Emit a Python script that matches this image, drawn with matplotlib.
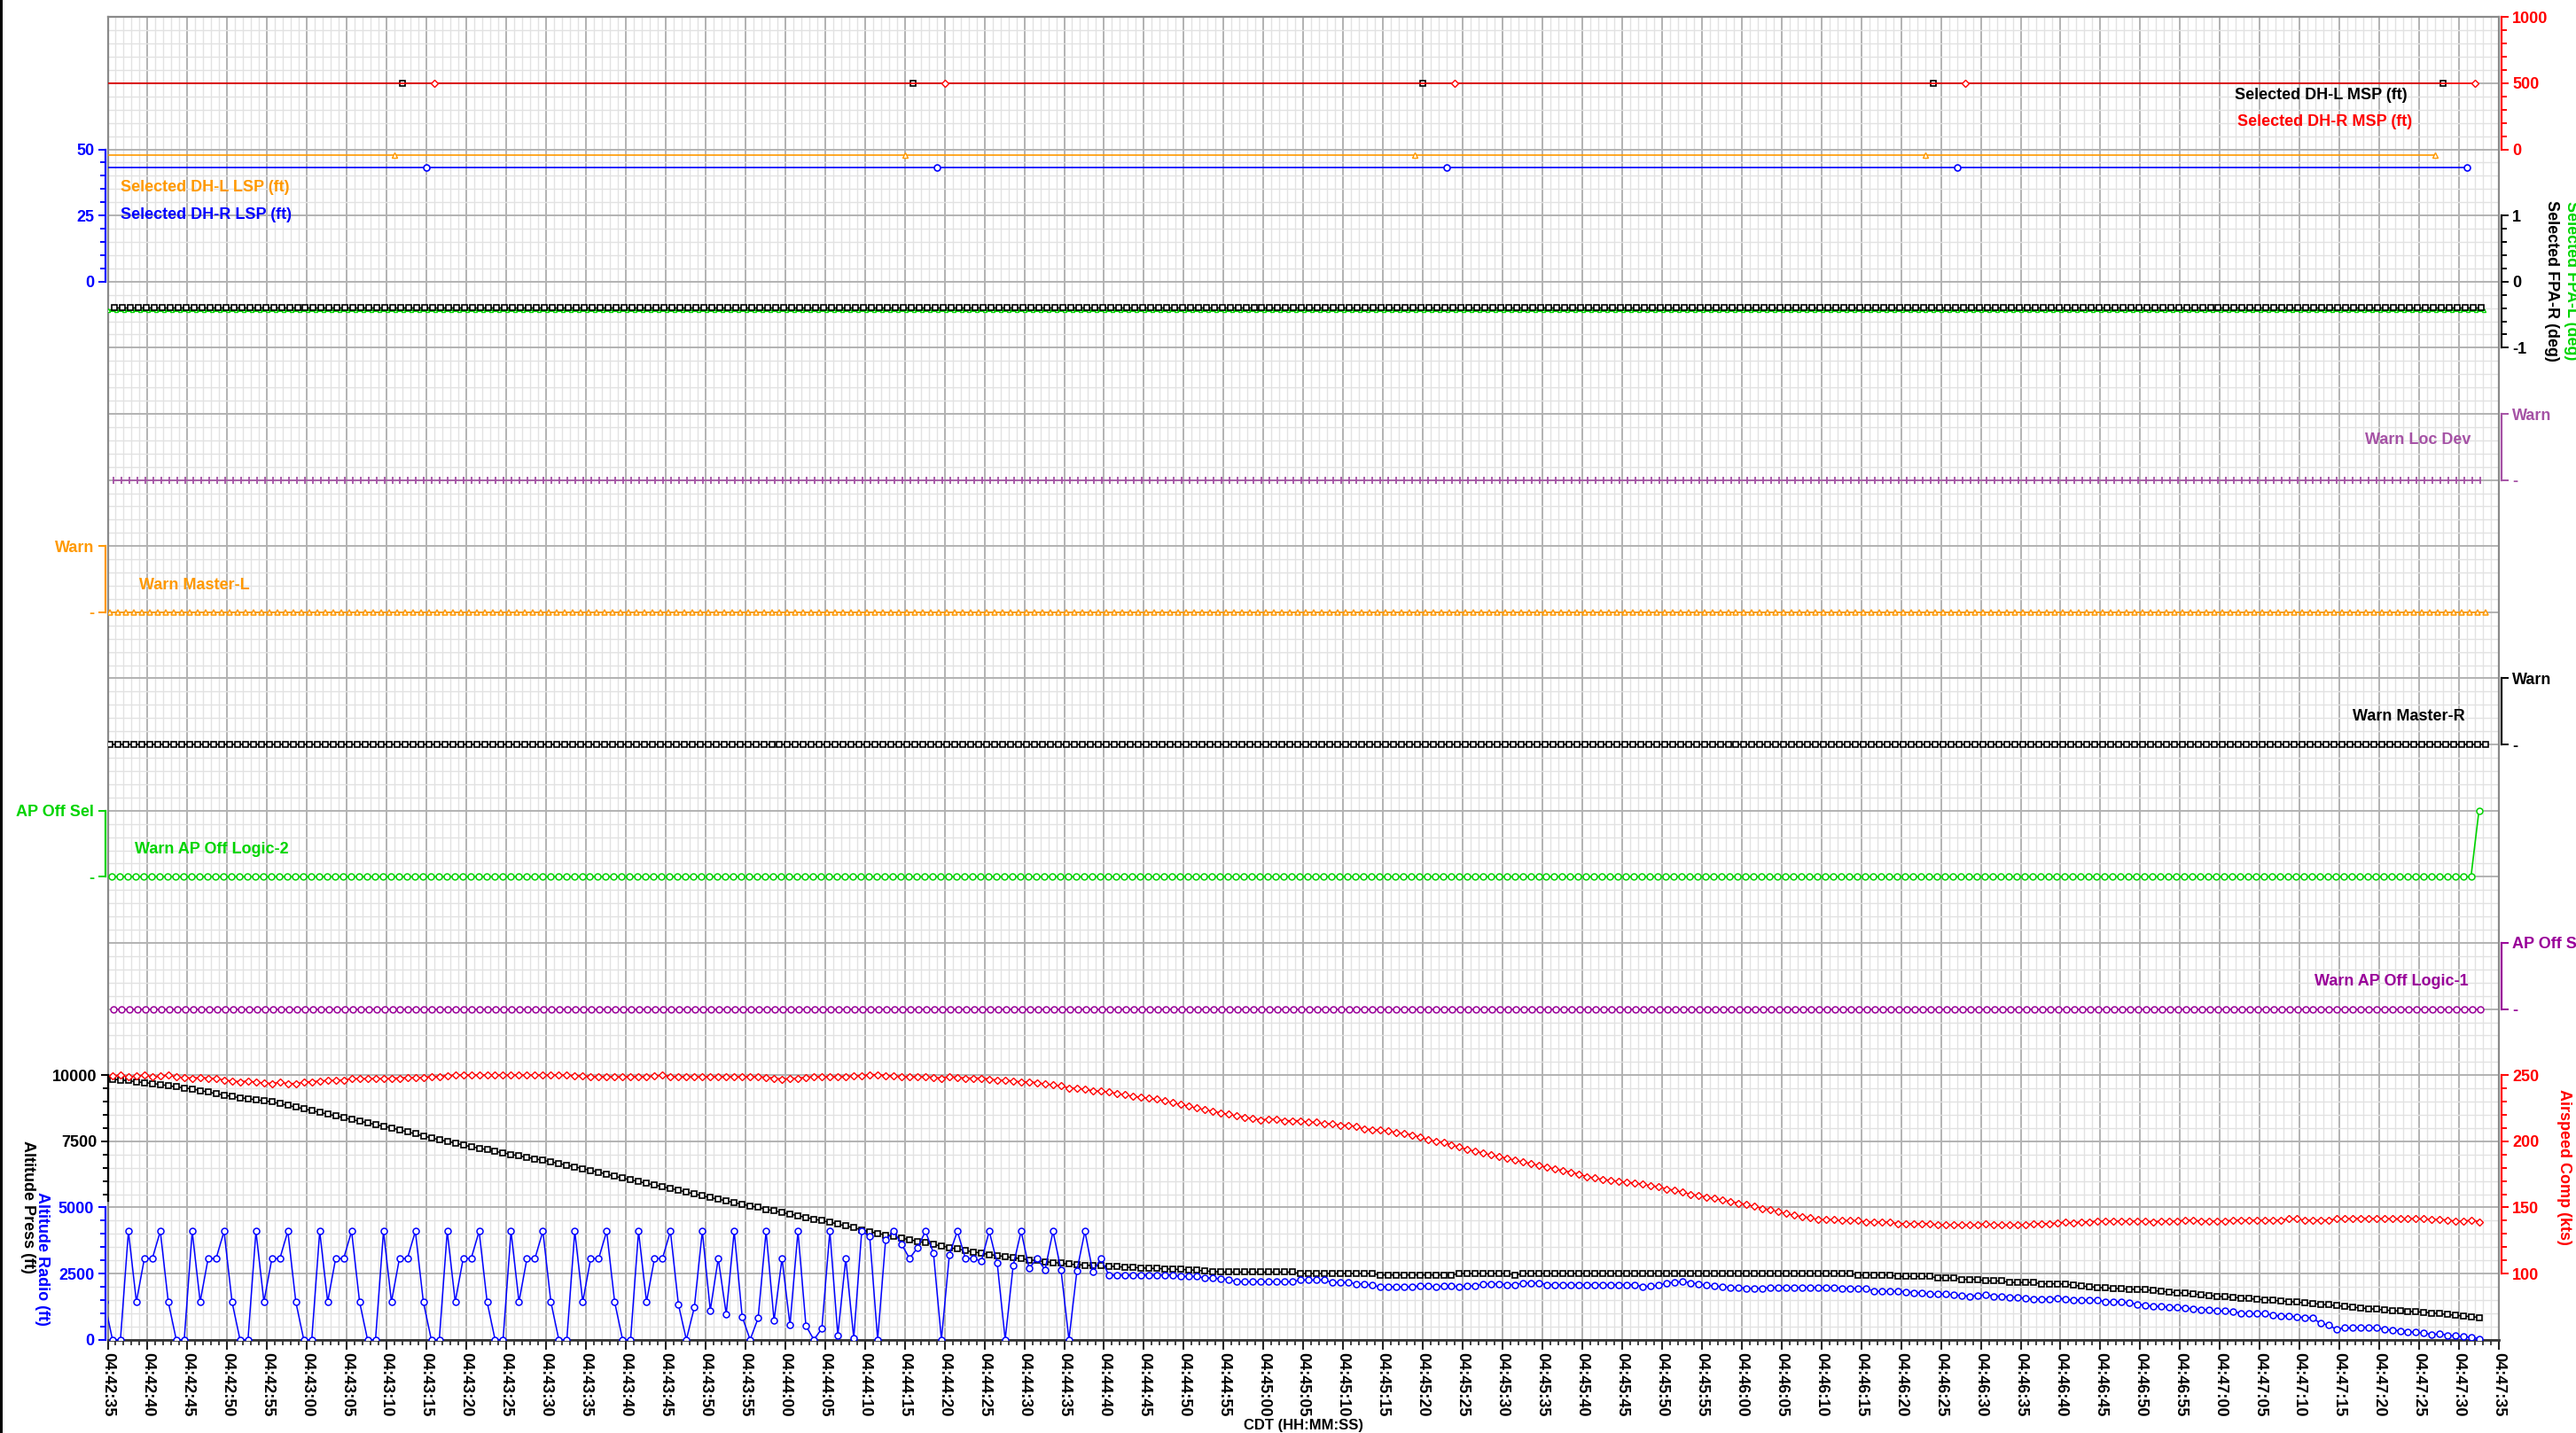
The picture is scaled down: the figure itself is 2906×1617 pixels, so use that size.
import numpy as np
import matplotlib
matplotlib.use("Agg")
import matplotlib.pyplot as plt
from matplotlib.ticker import (MultipleLocator, FixedLocator, FixedFormatter,
                               FuncFormatter, NullLocator)
from matplotlib.patches import Rectangle

plt.rcParams['font.family'] = ['Liberation Sans', 'DejaVu Sans']
plt.rcParams['font.weight'] = 'bold'
plt.rcParams['axes.unicode_minus'] = False

# ------------------------------------------------------------------ time base
T0_HMS = (4, 42, 35)          # first tick, CDT
WINDOW_S = 300                # seconds shown

# ------------------------------------------------------------------ DH settings (one sample every 64 s)
dh_l_msp_t = [-27, 37, 101, 165, 229, 293]
dh_l_msp = [500, 500, 500, 500, 500, 500]
dh_r_msp_t = [-23, 41, 105, 169, 233, 297]
dh_r_msp = [500, 500, 500, 500, 500, 500]
dh_l_lsp_t = [-28, 36, 100, 164, 228, 292]
dh_l_lsp = [48, 48, 48, 48, 48, 48]
dh_r_lsp_t = [-24, 40, 104, 168, 232, 296]
dh_r_lsp = [43, 43, 43, 43, 43, 43]

# ------------------------------------------------------------------ 1 Hz parameters: (value, count) runs
fpa_r_t0, fpa_r_runs = 0.8, [(-0.39, 298)]
fpa_l_t0, fpa_l_runs = 0.1, [(-0.43, 299)]
loc_dev_t0, loc_dev_runs = 0.7, [(0, 298)]
master_l_t0, master_l_runs = 0.3, [(0, 299)]
master_r_t0, master_r_runs = 0.3, [(0, 299)]
ap_logic2_t0, ap_logic2_runs = 0.5, [(0, 297), (1, 1)]
ap_logic1_t0, ap_logic1_runs = 0.7, [(0, 298)]

# ------------------------------------------------------------------ altitude / airspeed, 1 Hz
alt_press_t0 = 0.6
alt_press = [
    9850, 9820, 9790, 9750, 9720, 9685, 9650, 9600, 9560, 9520,
    9480, 9420, 9360, 9300, 9250, 9190, 9150, 9110, 9070, 9030,
    8990, 8920, 8860, 8790, 8730, 8660, 8590, 8530, 8460, 8390,
    8320, 8260, 8200, 8130, 8070, 8010, 7930, 7860, 7780, 7700,
    7630, 7560, 7500, 7430, 7360, 7295, 7240, 7180, 7120, 7060,
    7005, 6950, 6890, 6840, 6780, 6725, 6660, 6600, 6530, 6470,
    6400, 6330, 6260, 6180, 6110, 6040, 5980, 5910, 5850, 5780,
    5720, 5650, 5580, 5510, 5440, 5370, 5310, 5250, 5180, 5120,
    5060, 5000, 4930, 4870, 4810, 4745, 4690, 4620, 4560, 4500,
    4445, 4370, 4300, 4230, 4150, 4080, 4020, 3960, 3900, 3840,
    3780, 3720, 3660, 3600, 3540, 3480, 3430, 3370, 3320, 3270,
    3220, 3180, 3140, 3100, 3060, 3020, 2990, 2950, 2920, 2890,
    2855, 2840, 2820, 2800, 2790, 2780, 2760, 2745, 2730, 2715,
    2700, 2690, 2680, 2665, 2655, 2645, 2620, 2600, 2580, 2560,
    2555, 2555, 2555, 2555, 2555, 2555, 2555, 2555, 2555, 2500,
    2500, 2500, 2500, 2500, 2500, 2500, 2500, 2500, 2500, 2445,
    2445, 2445, 2445, 2445, 2445, 2445, 2445, 2445, 2445, 2500,
    2500, 2500, 2500, 2500, 2500, 2500, 2445, 2500, 2500, 2500,
    2500, 2500, 2500, 2500, 2500, 2500, 2500, 2500, 2500, 2500,
    2500, 2500, 2500, 2500, 2500, 2500, 2500, 2500, 2500, 2500,
    2500, 2500, 2500, 2500, 2500, 2500, 2500, 2500, 2500, 2500,
    2500, 2500, 2500, 2500, 2500, 2500, 2500, 2500, 2500, 2445,
    2445, 2445, 2445, 2445, 2390, 2390, 2390, 2390, 2390, 2335,
    2335, 2335, 2280, 2280, 2280, 2220, 2220, 2220, 2165, 2165,
    2165, 2165, 2110, 2110, 2110, 2100, 2055, 2030, 2000, 1980,
    1955, 1940, 1925, 1910, 1900, 1890, 1860, 1830, 1800, 1780,
    1755, 1730, 1700, 1670, 1645, 1620, 1600, 1575, 1550, 1530,
    1510, 1490, 1465, 1440, 1420, 1395, 1370, 1340, 1315, 1290,
    1260, 1230, 1200, 1175, 1150, 1120, 1100, 1085, 1070, 1055,
    1040, 1010, 980, 950, 920, 895, 865, 840,
]

alt_radio_t0 = -0.4
alt_radio = [
    1430,
    0, 0, 4100, 1430, 3070, 3070, 4100, 1430,
    0, 0, 4100, 1430, 3070, 3070, 4100, 1430,
    0, 0, 4100, 1430, 3070, 3070, 4100, 1430,
    0, 0, 4100, 1430, 3070, 3070, 4100, 1430,
    0, 0, 4100, 1430, 3070, 3070, 4100, 1430,
    0, 0, 4100, 1430, 3070, 3070, 4100, 1430,
    0, 0, 4100, 1430, 3070, 3070, 4100, 1430,
    0, 0, 4100, 1430, 3070, 3070, 4100, 1430,
    0, 0, 4100, 1430, 3070, 3070, 4100, 1333,
    0, 1222, 4100, 1111, 3070, 967, 4100, 867,
    0, 811, 4100, 722, 3070, 555, 4100, 522,
    0, 422, 4100, 167, 3070, 55, 4100, 3911,
    0, 3778, 4100, 3610, 3070, 3478, 4100, 3278,
    0, 3222, 4100, 3078, 3070, 2966, 4100, 2889,
    0, 2800, 4100, 2700, 3070, 2644, 4100, 2644,
    0, 2611, 4100, 2555, 3070, 2444, 2444, 2444,
    2444, 2444, 2444, 2444, 2444, 2444, 2389, 2389,
    2389, 2333, 2333, 2300, 2278, 2189, 2189, 2189,
    2189, 2189, 2189, 2189, 2189, 2255, 2255, 2255,
    2255, 2167, 2167, 2167, 2111, 2111, 2055, 2000,
    2000, 2000, 2000, 2000, 2033, 2033, 2000, 2033,
    2033, 2000, 2033, 2033, 2111, 2111, 2111, 2078,
    2078, 2144, 2144, 2144, 2078, 2078, 2078, 2078,
    2078, 2078, 2078, 2078, 2078, 2078, 2078, 2078,
    2000, 2033, 2055, 2144, 2167, 2200, 2144, 2111,
    2055, 2033, 2000, 1978, 1978, 1944, 1944, 1944,
    1978, 1978, 1978, 1978, 1978, 1978, 1978, 1978,
    1978, 1944, 1944, 1944, 1944, 1833, 1833, 1833,
    1833, 1811, 1778, 1778, 1722, 1722, 1722, 1700,
    1667, 1644, 1667, 1700, 1644, 1644, 1611, 1611,
    1556, 1533,
    1541, 1541, 1560, 1541, 1486, 1508, 1486, 1508, 1430, 1430,
    1430, 1397, 1340, 1307, 1262, 1262, 1228, 1228, 1195, 1172,
    1139, 1139, 1083, 1083, 1061, 1005, 983, 983, 983, 927,
    894, 894, 860, 838, 838,
    614, 558, 391, 447, 447, 469, 469, 447, 391, 368,
    335, 301, 279, 257, 190, 223, 168, 145, 112, 89, 34,
]

airspeed_t0 = 0.6
airspeed = [
    249.3, 250.0, 248.7, 249.3, 250.0, 248.7, 249.3, 250.0, 248.7, 248.2,
    247.8, 248.2, 247.8, 247.3, 246.4, 245.5, 245.1, 245.5, 244.6, 244.2,
    243.7, 244.6, 243.7, 243.7, 244.6, 245.1, 245.5, 246.0, 246.0, 246.4,
    247.3, 247.3, 247.3, 247.3, 247.3, 247.8, 247.8, 248.2, 248.2, 248.4,
    248.9, 249.1, 249.6, 250.0, 250.0, 250.0, 250.0, 250.0, 250.0, 250.0,
    250.0, 250.0, 250.0, 250.0, 250.0, 250.0, 250.0, 250.0, 249.6, 249.3,
    249.1, 248.9, 249.1, 248.9, 248.9, 249.1, 248.9, 249.1, 249.3, 250.0,
    249.1, 248.9, 248.9, 249.1, 248.9, 248.9, 249.1, 248.9, 248.9, 248.9,
    248.9, 248.9, 248.4, 247.8, 247.0, 247.3, 247.8, 248.4, 248.9, 248.9,
    248.9, 249.1, 249.1, 249.3, 249.6, 250.4, 250.4, 249.8, 249.3, 249.1,
    248.9, 248.9, 248.9, 248.4, 247.8, 248.9, 248.4, 247.8, 247.8, 247.8,
    247.1, 246.2, 246.2, 245.5, 244.9, 244.9, 244.4, 243.3, 242.7, 241.8,
    240.4, 240.0, 239.3, 238.2, 237.8, 237.3, 236.2, 235.1, 234.0, 233.3,
    232.4, 231.8, 230.7, 229.1, 227.8, 226.7, 225.1, 224.0, 222.7, 221.6,
    220.4, 219.3, 218.2, 217.3, 216.2, 216.7, 216.7, 215.6, 215.6, 215.6,
    214.4, 214.4, 213.3, 213.3, 212.2, 212.2, 211.1, 209.3, 208.9, 208.4,
    207.8, 206.7, 205.9, 204.9, 203.3, 201.1, 200.0, 198.9, 197.3, 195.6,
    193.8, 192.4, 191.1, 189.6, 188.4, 187.1, 185.6, 184.4, 183.1, 181.6,
    180.4, 179.1, 177.8, 176.7, 175.1, 173.3, 172.2, 171.1, 170.4, 169.6,
    169.1, 168.4, 167.6, 166.4, 165.6, 164.0, 162.9, 161.6, 160.0, 158.9,
    157.8, 156.7, 155.6, 154.4, 153.3, 152.2, 150.7, 149.3, 148.2, 146.7,
    145.3, 144.0, 143.1, 142.2, 140.7, 140.7, 140.7, 140.0, 140.0, 140.0,
    138.9, 138.9, 138.9, 138.9, 137.8, 137.8, 137.8, 137.8, 137.8, 136.7,
    136.7, 136.7, 136.7, 136.7, 136.7, 137.8, 136.7, 136.7, 136.7, 136.7,
    136.7, 137.8, 137.8, 137.8, 138.2, 138.9, 138.2, 139.1, 139.1, 139.6,
    139.6, 139.6, 139.6, 139.6, 139.6, 139.6, 139.1, 139.6, 139.6, 139.6,
    140.4, 140.4, 139.6, 139.6, 139.6, 139.6, 140.4, 140.4, 140.4, 140.4,
    140.4, 140.4, 140.4, 141.3, 141.3, 140.4, 140.4, 140.4, 140.4, 141.3,
    141.3, 141.8, 141.8, 141.8, 141.3, 141.8, 141.3, 141.3, 141.8, 141.3,
    141.3, 140.9, 140.9, 140.4, 139.6, 139.6, 140.4, 139.1,
]

# ------------------------------------------------------------------ colours
C_ORANGE = '#ff9900'
C_GREEN = '#00d400'
C_PURPLE = '#a552a5'
C_MAGENTA = '#990099'
C_BLUE = '#0000ff'
C_RED = '#ff0000'
C_BLACK = '#000000'
FS = 13

# ------------------------------------------------------------------ helpers
def expand(runs):
    return np.concatenate([np.full(n, v, dtype=float) for v, n in runs])


def sample_times(t0, n):
    return t0 + np.arange(n)


def value_limits(v_top, r_top, v_bot, r_bot, rows=20):
    """y-limits so that v_top sits on grid row r_top and v_bot on r_bot (rows counted from the top)."""
    per_row = (v_top - v_bot) / (r_bot - r_top)
    hi = v_top + r_top * per_row
    return hi - rows * per_row, hi


def hms(x, pos=None):
    s = T0_HMS[0] * 3600 + T0_HMS[1] * 60 + T0_HMS[2] + int(round(x))
    return f"{s // 3600:02d}:{s % 3600 // 60:02d}:{s % 60:02d}"


W_PX, H_PX, DPI = 2906, 1617, 100
fig = plt.figure(figsize=(W_PX / DPI, H_PX / DPI), dpi=DPI, facecolor='white')
L, R, T, B = 121.5 / W_PX, 2819 / W_PX, 19.3 / H_PX, 1511.7 / H_PX
RECT = [L, 1 - B, R - L, B - T]

# host: grid, frame and time axis
host = fig.add_axes(RECT)
host.set_xlim(0, WINDOW_S)
host.set_ylim(0, 20)
host.xaxis.set_major_locator(MultipleLocator(5))
host.xaxis.set_minor_locator(MultipleLocator(1))
host.yaxis.set_major_locator(MultipleLocator(1))
host.yaxis.set_minor_locator(MultipleLocator(0.2))
host.grid(which='minor', color='#e2e2e2', lw=1.0)
host.grid(which='major', color='#b2b2b2', lw=1.4)
host.set_axisbelow(True)
host.tick_params(axis='y', which='both', left=False, right=False, labelleft=False)
host.xaxis.set_major_formatter(FuncFormatter(hms))
host.tick_params(axis='x', which='major', length=8, width=1.5, pad=2,
                 labelsize=FS, labelrotation=-90, color='#222222')
host.tick_params(axis='x', which='minor', length=4, width=1.2, color='#222222')
for name, sp in host.spines.items():
    sp.set_color('#8a8a8a')
    sp.set_linewidth(1.6)
host.spines['bottom'].set_color('#333333')
host.spines['bottom'].set_linewidth(2.0)
host.set_xlabel('CDT (HH:MM:SS)', fontsize=12, fontweight='bold', labelpad=2)


def make_panel(side, lims, color, bounds, major, minor=None, labels=None, offset=2.0):
    ax = fig.add_axes(RECT)
    ax.patch.set_visible(False)
    ax.set_xlim(0, WINDOW_S)
    ax.set_ylim(*lims)
    for name, sp in ax.spines.items():
        sp.set_visible(name == side)
    sp = ax.spines[side]
    sp.set_color(color)
    sp.set_linewidth(1.6)
    sp.set_bounds(*bounds)
    sp.set_position(('outward', offset))
    ax.xaxis.set_visible(False)
    ax.yaxis.set_ticks_position(side)
    ax.yaxis.set_major_locator(FixedLocator(major))
    if labels is not None:
        ax.yaxis.set_major_formatter(FixedFormatter(labels))
    else:
        ax.yaxis.set_major_formatter(FuncFormatter(lambda v, p: f"{v:g}"))
    ax.yaxis.set_minor_locator(FixedLocator(minor) if minor is not None else NullLocator())
    ax.tick_params(axis='y', which='both', colors=color, direction='out', width=1.4,
                   labelsize=FS)
    ax.tick_params(axis='y', which='major', length=6, pad=3)
    ax.tick_params(axis='y', which='minor', length=4)
    return ax


line_kw = dict(lw=1.2, clip_on=True)

# ---- Selected DH MSP (right, 0..1000)
ax_msp = make_panel('right', value_limits(1000, 0, 0, 2), C_RED, (0, 1000), [0, 500, 1000],
                    minor=np.arange(100, 1000, 100))
ax_msp.plot(dh_l_msp_t, dh_l_msp, color=C_BLACK, marker='s', ms=5, mfc='white', mew=1.2, **line_kw)
ax_msp.plot(dh_r_msp_t, dh_r_msp, color=C_RED, marker='D', ms=4, mfc='white', mew=1.0, **line_kw)

# ---- Selected DH LSP (left, 0..50)
ax_lsp = make_panel('left', value_limits(50, 2, 0, 4), C_BLUE, (0, 50), [0, 25, 50],
                    minor=np.arange(5, 50, 5))
ax_lsp.plot(dh_l_lsp_t, dh_l_lsp, color=C_ORANGE, marker='^', ms=5, mfc='white', mew=1.0, **line_kw)
ax_lsp.plot(dh_r_lsp_t, dh_r_lsp, color=C_BLUE, marker='o', ms=5, mfc='white', mew=1.2, **line_kw)

# ---- Selected FPA (right, -1..1)
ax_fpa = make_panel('right', value_limits(1, 3, -1, 5), C_BLACK, (-1, 1), [-1, 0, 1],
                    minor=np.arange(-0.8, 1.0, 0.2))
fpa_l = expand(fpa_l_runs)
fpa_r = expand(fpa_r_runs)
ax_fpa.plot(sample_times(fpa_l_t0, len(fpa_l)), fpa_l, color=C_GREEN, lw=2.2,
            marker='^', ms=3, mfc='white', mew=0.9)
ax_fpa.plot(sample_times(fpa_r_t0, len(fpa_r)), fpa_r, color=C_BLACK, lw=1.0,
            marker='s', ms=5, mfc='white', mew=1.2)

# ---- discrete warnings
def flag_panel(side, row, color, top_label, runs, t0, marker, ms=5, mew=1.1):
    ax = make_panel(side, value_limits(1, row, 0, row + 1), color, (0, 1), [0, 1],
                    labels=['-', top_label])
    vals = expand(runs)
    ax.plot(sample_times(t0, len(vals)), vals, color=color, marker=marker, ms=ms,
            mfc='white' if marker not in ('|', '+') else color, mew=mew, **line_kw)
    return ax


flag_panel('right', 6, C_PURPLE, 'Warn', loc_dev_runs, loc_dev_t0, '|', ms=6, mew=1.3)
flag_panel('left', 8, C_ORANGE, 'Warn', master_l_runs, master_l_t0, '^', ms=5)
flag_panel('right', 10, C_BLACK, 'Warn', master_r_runs, master_r_t0, 's', ms=5, mew=1.2)
flag_panel('left', 12, C_GREEN, 'AP Off Sel', ap_logic2_runs, ap_logic2_t0, 'o', ms=5)
flag_panel('right', 14, C_MAGENTA, 'AP Off Sel', ap_logic1_runs, ap_logic1_t0, 'o', ms=5)

# ---- altitude (left) and airspeed (right)
alt_lims = value_limits(10000, 16, 0, 20)
ax_press = make_panel('left', alt_lims, C_BLACK, (5250, 10000), [7500, 10000],
                      minor=np.arange(5500, 10000, 500), offset=0)
ax_radio = make_panel('left', alt_lims, C_BLUE, (0, 5000), [0, 2500, 5000],
                      minor=np.arange(500, 5000, 500), offset=2)
ax_spd = make_panel('right', value_limits(250, 16, 50, 20), C_RED, (100, 250),
                    [100, 150, 200, 250], minor=np.arange(110, 250, 10))

ax_spd.plot(sample_times(airspeed_t0, len(airspeed)), airspeed, color=C_RED, lw=1.1,
            marker='D', ms=4, mfc='white', mew=1.0)
ax_press.plot(sample_times(alt_press_t0, len(alt_press)), alt_press, color=C_BLACK, lw=1.1,
              marker='s', ms=5, mfc='white', mew=1.2)
ax_radio.plot(sample_times(alt_radio_t0, len(alt_radio)), alt_radio, color=C_BLUE, lw=1.1,
              marker='o', ms=5, mfc='white', mew=1.1)

# ---- series names inside the plot (host coords: seconds, grid rows from the bottom)
txt = dict(fontsize=FS, fontweight='bold', va='center')
host.text(1.6, 17.42, 'Selected DH-L LSP (ft)', color=C_ORANGE, ha='left', **txt)
host.text(1.6, 17.01, 'Selected DH-R LSP (ft)', color=C_BLUE, ha='left', **txt)
host.text(266.9, 18.82, 'Selected DH-L MSP (ft)', color=C_BLACK, ha='left', **txt)
host.text(267.2, 18.42, 'Selected DH-R MSP (ft)', color=C_RED, ha='left', **txt)
host.text(296.5, 13.61, 'Warn Loc Dev', color=C_PURPLE, ha='right', **txt)
host.text(3.9, 11.41, 'Warn Master-L', color=C_ORANGE, ha='left', **txt)
host.text(295.8, 9.43, 'Warn Master-R', color=C_BLACK, ha='right', **txt)
host.text(3.4, 7.42, 'Warn AP Off Logic-2', color=C_GREEN, ha='left', **txt)
host.text(296.2, 5.42, 'Warn AP Off Logic-1', color=C_MAGENTA, ha='right', **txt)

# ---- rotated axis titles
rot = dict(fontsize=FS, fontweight='bold', rotation=-90, ha='center', va='center')
fig.text(31 / W_PX, 1 - 1361.7 / H_PX, 'Altitude Press (ft)', color=C_BLACK, **rot)
fig.text(47 / W_PX, 1 - 1420.8 / H_PX, 'Altitude Radio (ft)', color=C_BLUE, **rot)
fig.text(2892 / W_PX, 1 - 1316.7 / H_PX, 'Airspeed Comp (kts)', color=C_RED, **rot)
fig.text(2878.6 / W_PX, 1 - 316.7 / H_PX, 'Selected FPA-R (deg)', color=C_BLACK, **rot)
fig.text(2901 / W_PX, 1 - 316.7 / H_PX, 'Selected FPA-L (deg)', color=C_GREEN, **rot)

# thin dark border along the left edge of the image
fig.add_artist(Rectangle((0, 0), 2.5 / W_PX, 1, transform=fig.transFigure,
                         color='black', lw=0))

fig.savefig('out.png', dpi=DPI, facecolor='white')
